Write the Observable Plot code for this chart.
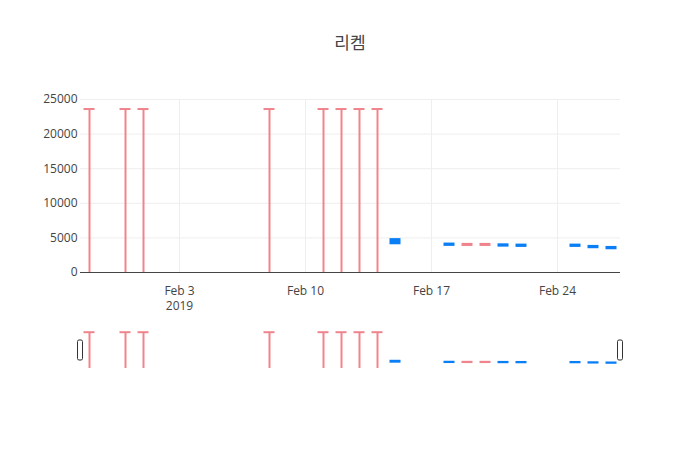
<!DOCTYPE html>
<html>
<head>
<meta charset="utf-8">
<script src="https://cdn.jsdelivr.net/npm/d3@7"></script>
<script src="https://cdn.jsdelivr.net/npm/@observablehq/plot@0.6"></script>
<style>
  html, body { margin: 0; padding: 0; background: white; }
  #wrap { position: relative; width: 700px; height: 450px; font-family: 'Open Sans', 'Noto Sans CJK KR', sans-serif; color: #444; }
  #title { position: absolute; top: 32px; left: 0; width: 700px; text-align: center; font-size: 17px; line-height: 22px; font-family: 'Open Sans', 'Noto Sans CJK KR', sans-serif; color: #444; }
  #main { position: absolute; top: 81px; left: 0; }
  #slider { position: absolute; top: 320px; left: 0; }
</style>
</head>
<body>
<div id="wrap">
  <div id="title">리켐</div>
  <div id="main"></div>
  <div id="slider"></div>
</div>
<script>
// ---- data ----
const dates = ["2019-01-29","2019-01-31","2019-02-01","2019-02-08","2019-02-11","2019-02-12","2019-02-13","2019-02-14","2019-02-15","2019-02-18","2019-02-19","2019-02-20","2019-02-21","2019-02-22","2019-02-25","2019-02-26","2019-02-27"];
const open  = [23550,23550,23550,23550,23550,23550,23550,23550,4150,3920,4060,4060,3810,3770,3770,3580,3430];
const high  = [23550,23550,23550,23550,23550,23550,23550,23550,4800,4120,4070,4070,4010,3970,3970,3780,3630];
const low   = [0,0,0,0,0,0,0,0,4100,3910,3900,3900,3800,3760,3760,3570,3420];
const close = [23550,23550,23550,23550,23550,23550,23550,23550,4750,4110,3910,3910,4000,3960,3960,3770,3620];

const xTickDates = ["2019-02-03","2019-02-10","2019-02-17","2019-02-24"];
const xTickLabels = ["Feb 3\n2019","Feb 10","Feb 17","Feb 24"];
const yTicks = [0,5000,10000,15000,20000,25000];
const xRange = ["2019-01-28T12:00:00Z","2019-02-27T12:00:00Z"];
const yRange = [0, 25000];

const incColor = "#0a7ff5";
const decColor = "#f0848c";

// ---- build table ----
const day = 24*3600*1000;
const rows = dates.map((d, i) => ({
  date: new Date(d + "T00:00:00Z"),
  open: open[i], high: high[i], low: low[i], close: close[i],
  color: close[i] > open[i] ? incColor : decColor
}));
const xDomain = xRange.map(d => new Date(d));
const xTicks = xTickDates.map(d => new Date(d + "T00:00:00Z"));

const candleMarks = [
  Plot.ruleX(rows, {x: "date", y1: "low", y2: "high", stroke: "color", strokeWidth: 2}),
  Plot.rect(rows, {
    x1: d => new Date(+d.date - day/4), x2: d => new Date(+d.date + day/4),
    y1: d => Math.min(d.open, d.close), y2: d => Math.max(d.open, d.close),
    fill: "color", insetTop: -1, insetBottom: -1, insetLeft: -1, insetRight: -1
  })
];

const style = {fontFamily: "'Open Sans', sans-serif", fontSize: "12px", color: "#444", background: "white", overflow: "visible"};

const main = Plot.plot({
  width: 700, height: 236,
  marginTop: 18, marginBottom: 45, marginLeft: 80, marginRight: 80,
  style,
  x: {type: "utc", domain: xDomain},
  y: {domain: yRange},
  color: {type: "identity"},
  marks: [
    Plot.gridY({ticks: yTicks, stroke: "#eee", strokeOpacity: 1}),
    Plot.gridX({ticks: xTicks, stroke: "#eee", strokeOpacity: 1}),
    Plot.axisY({ticks: yTicks, tickSize: 0, tickPadding: 3, tickFormat: d3.format("d"), fontSize: 12, fill: "#444"}),
    Plot.axisX({ticks: xTicks, tickSize: 0, tickPadding: 11, tickFormat: (d, i) => xTickLabels[i], lineHeight: 1.3, fontSize: 12, fill: "#444"}),
    Plot.ruleY([0], {stroke: "#444", strokeWidth: 1}),
    ...candleMarks
  ]
});
document.getElementById("main").appendChild(main);

const slider = Plot.plot({
  width: 700, height: 50,
  marginTop: 10, marginBottom: 2, marginLeft: 80, marginRight: 80,
  style,
  x: {type: "utc", domain: xDomain, axis: null},
  y: {domain: yRange, axis: null},
  color: {type: "identity"},
  marks: [
    ...candleMarks,
    Plot.rect(xDomain, {x1: d => d, x2: d => d, insetTop: 10, insetBottom: 8, insetLeft: -2.5, insetRight: -2.5, fill: "white", stroke: "#333", strokeWidth: 1, rx: 1.5})
  ]
});
document.getElementById("slider").appendChild(slider);
</script>
</body>
</html>
